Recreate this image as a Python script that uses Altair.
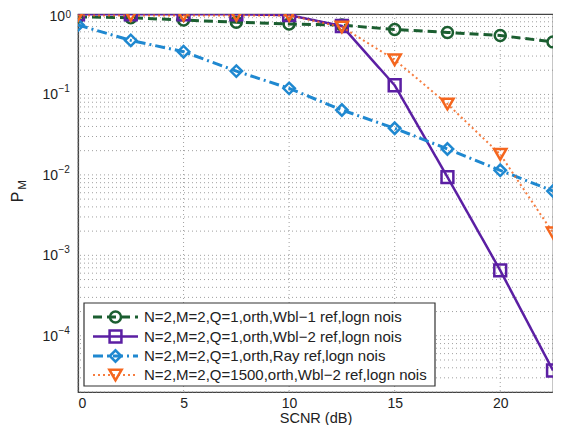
import altair as alt
import pandas as pd

# ---- data ----
snr = [0, 2.5, 5, 7.5, 10, 12.5, 15, 17.5, 20, 22.5]
labels = [
    "N=2,M=2,Q=1,orth,Wbl\u22121 ref,logn nois",
    "N=2,M=2,Q=1,orth,Wbl\u22122 ref,logn nois",
    "N=2,M=2,Q=1,orth,Ray ref,logn nois",
    "N=2,M=2,Q=1500,orth,Wbl\u22122 ref,logn nois",
]
pm_wbl1 = [0.92, 0.90, 0.84, 0.79, 0.75, 0.73, 0.64, 0.59, 0.54, 0.45]
pm_wbl2 = [0.99, 0.99, 0.99, 0.99, 0.97, 0.71, 0.13, 0.0094, 0.00065, 0.000037]
pm_ray = [0.73, 0.47, 0.34, 0.195, 0.119, 0.064, 0.038, 0.021, 0.0114, 0.0063]
pm_q1500 = [0.96, 0.96, 0.96, 0.96, 0.96, 0.69, 0.27, 0.076, 0.018, 0.0019]

colors = ["#1b5e30", "#5b1fa3", "#1f88d0", "#f5661e"]
shapes = ["circle", "square", "diamond", "triangle-down"]
dashes = [[9, 5], [1, 0], [10, 4, 2, 4], [2, 3]]
widths = [3, 2.5, 3, 2]
msizes = [120, 140, 130, 150]
series_vals = [pm_wbl1, pm_wbl2, pm_ray, pm_q1500]

x_ticks = [0, 5, 10, 15, 20]
y_ticks = [1e-4, 1e-3, 1e-2, 1e-1]
y_exps = ["\u22124", "\u22123", "\u22122", "\u22121"]
y_top = [1]
y_top_exp = ["0"]
y_minor = [k * 10.0 ** e for e in range(-5, 0) for k in range(1, 10)]
y_minor = [v for v in y_minor if 2e-5 <= v <= 1]

W, H = 475, 378
xs = alt.Scale(domain=[0, 22.5], nice=False, zero=False)
ys = alt.Scale(type="log", domain=[2e-5, 1], nice=False)
FONT = "Liberation Sans"
TXT = "#222"

layers = []

# grid
grid_y = alt.Chart(pd.DataFrame({"v": y_minor})).mark_rule(
    color="#888", strokeDash=[1, 3], strokeWidth=1, opacity=0.8
).encode(y=alt.Y("v:Q", scale=ys))
grid_x = alt.Chart(pd.DataFrame({"v": x_ticks})).mark_rule(
    color="#888", strokeDash=[1, 3], strokeWidth=1, opacity=0.8
).encode(x=alt.X("v:Q", scale=xs))
layers += [grid_y, grid_x]

# axes-only layer (x axis real, y axis line only; y labels drawn as text)
axes = alt.Chart(pd.DataFrame({"x": [0], "y": [1]})).mark_point(opacity=0).encode(
    x=alt.X("x:Q", scale=xs, title="SCNR (dB)",
            axis=alt.Axis(values=x_ticks, grid=False, format="d", tickSize=0,
                          labelPadding=4, titlePadding=1)),
    y=alt.Y("y:Q", scale=ys, title=None,
            axis=alt.Axis(values=y_ticks, grid=False, tickSize=0, labels=False)),
)
layers.append(axes)

# y tick labels: "10" with superscript exponent
lab_df = pd.DataFrame({"v": y_ticks, "e": y_exps, "b": ["10"] * len(y_ticks)})
top_df = pd.DataFrame({"v": y_top, "e": y_top_exp, "b": ["10"]})
for df, xb, dyb, dye in [(lab_df, -20, 1, -5), (top_df, -13, 2.5, 1)]:
    layers.append(alt.Chart(df).mark_text(
        align="right", baseline="middle", font=FONT, fontSize=14, color=TXT, dy=dyb
    ).encode(x=alt.value(xb), y=alt.Y("v:Q", scale=ys), text="b:N"))
    layers.append(alt.Chart(df).mark_text(
        align="left", baseline="middle", font=FONT, fontSize=10, color=TXT, dy=dye
    ).encode(x=alt.value(xb + 0.5), y=alt.Y("v:Q", scale=ys), text="e:N"))

for i in range(4):
    df = pd.DataFrame({"x": snr, "y": series_vals[i]})
    base = alt.Chart(df)
    line = base.mark_line(color=colors[i], strokeWidth=widths[i],
                          strokeDash=dashes[i], clip=True,
                          opacity=0.85 if i == 3 else 1).encode(
        x=alt.X("x:Q", scale=xs), y=alt.Y("y:Q", scale=ys))
    pts = base.mark_point(color=colors[i], shape=shapes[i], size=msizes[i],
                          filled=False, strokeWidth=2.5, opacity=1, clip=True).encode(
        x=alt.X("x:Q", scale=xs), y=alt.Y("y:Q", scale=ys))
    layers += [line, pts]

# legend box
box = alt.Chart(pd.DataFrame({"a": [0]})).mark_rect(
    fill="white", stroke="#333", strokeWidth=1.2
).encode(x=alt.value(6), x2=alt.value(357), y=alt.value(289), y2=alt.value(372))
layers.append(box)
row_y = [303, 322.5, 342, 361]
for i in range(4):
    d = pd.DataFrame({"a": [0]})
    ln = alt.Chart(d).mark_rule(color=colors[i], strokeWidth=widths[i],
                                strokeDash=dashes[i],
                                opacity=0.85 if i == 3 else 1).encode(
        x=alt.value(15), x2=alt.value(60), y=alt.value(row_y[i]))
    mk = alt.Chart(d).mark_point(color=colors[i], shape=shapes[i], size=msizes[i],
                                 filled=False, strokeWidth=2.5, opacity=1).encode(
        x=alt.value(37.5), y=alt.value(row_y[i]))
    tx = alt.Chart(d).mark_text(align="left", baseline="middle", font=FONT,
                                fontSize=15, color=TXT).encode(
        x=alt.value(66), y=alt.value(row_y[i]), text=alt.value(labels[i]))
    layers += [ln, mk, tx]

# y axis title P_M
pt = alt.Chart(pd.DataFrame({"a": [0]})).mark_text(
    angle=270, font=FONT, fontSize=16, color=TXT, align="center", baseline="middle"
).encode(x=alt.value(-60), y=alt.value(183), text=alt.value("P"))
mt = alt.Chart(pd.DataFrame({"a": [0]})).mark_text(
    angle=270, font=FONT, fontSize=11.5, color=TXT, align="center", baseline="middle"
).encode(x=alt.value(-55), y=alt.value(171), text=alt.value("M"))
layers += [pt, mt]

chart = alt.layer(*layers).properties(
    width=W, height=H,
    autosize=alt.AutoSizeParams(type="none"),
    padding={"left": 70, "top": 6, "right": 0, "bottom": 33},
).configure_view(stroke="#444", strokeWidth=1.2).configure_axis(
    labelFont=FONT, titleFont=FONT, labelFontSize=14, titleFontSize=14.5,
    labelColor=TXT, titleColor=TXT, domainColor="#444", domainWidth=1.2,
    titleFontWeight="normal",
)

chart.save("out.html", embed_options={"renderer": "svg", "actions": False})
